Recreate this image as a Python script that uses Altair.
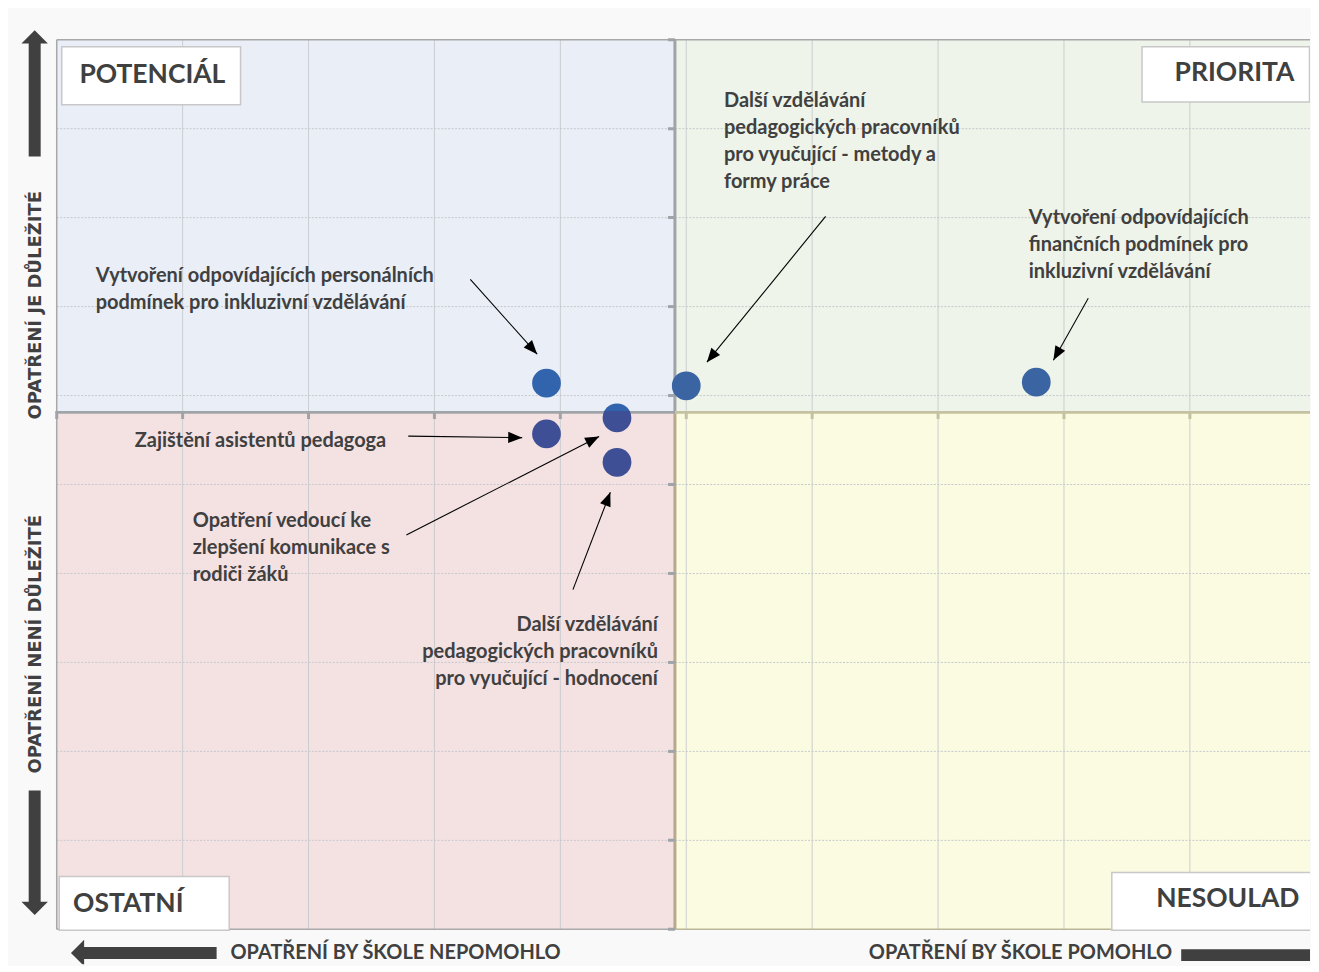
import math
import altair as alt
import pandas as pd

# ------------------------------------------------------------------
# Values (x = helpfulness, y = importance)
# ------------------------------------------------------------------
MEASURES = [
    "Vytvoření odpovídajících personálních podmínek pro inkluzivní vzdělávání",
    "Další vzdělávání pedagogických pracovníků pro vyučující - metody a formy práce",
    "Vytvoření odpovídajících finančních podmínek pro inkluzivní vzdělávání",
    "Zajištění asistentů pedagoga",
    "Opatření vedoucí ke zlepšení komunikace s rodiči žáků",
    "Další vzdělávání pedagogických pracovníků pro vyučující - hodnocení",
]
HELPFULNESS = [3.89, 5.00, 7.78, 3.89, 4.45, 4.45]
IMPORTANCE = [6.14, 6.11, 6.15, 5.57, 5.75, 5.25]

# annotation labels (lines), anchor and the arrow pointing to the measure
LABEL_LINES = [
    ["Vytvoření odpovídajících personálních", "podmínek pro inkluzivní vzdělávání"],
    ["Další vzdělávání", "pedagogických pracovníků", "pro vyučující - metody a", "formy práce"],
    ["Vytvoření odpovídajících", "finančních podmínek pro", "inkluzivní vzdělávání"],
    ["Zajištění asistentů pedagoga"],
    ["Opatření vedoucí ke", "zlepšení komunikace s", "rodiči žáků"],
    ["Další vzdělávání", "pedagogických pracovníků", "pro vyučující - hodnocení"],
]
LABEL_X = [0.31, 5.30, 7.72, 0.62, 1.08, 4.775]
LABEL_Y = [7.34, 9.315, 8.00, 5.49, 4.59, 3.42]
LABEL_ALIGN = ["left", "left", "left", "left", "left", "right"]
ARROW_FROM_X = [3.285, 6.107, 8.193, 2.792, 2.777, 4.100]
ARROW_FROM_Y = [7.306, 8.013, 7.093, 5.544, 4.433, 3.819]
ARROW_TO_X = [3.816, 5.164, 7.916, 3.697, 4.308, 4.397]
ARROW_TO_Y = [6.465, 6.375, 6.397, 5.527, 5.540, 4.913]

# axes crossing point and grid
X_CROSS, Y_CROSS = 4.91, 5.825
GRID = list(range(0, 11))

# quadrants
QUADRANTS = ["POTENCIÁL", "PRIORITA", "OSTATNÍ", "NESOULAD"]
QUAD_X = [0, X_CROSS, 0, X_CROSS]
QUAD_X2 = [X_CROSS, 10, X_CROSS, 10]
QUAD_Y = [Y_CROSS, Y_CROSS, 0, 0]
QUAD_Y2 = [10, 10, Y_CROSS, Y_CROSS]
QUAD_FILL = ["#e9eef7", "#eef4e9", "#f4e2e3", "#fafbe1"]
QUAD_BOX_X = [0.04, 8.62, 0.02, 8.38]
QUAD_BOX_X2 = [1.46, 9.95, 1.37, 10.0]
QUAD_BOX_Y = [9.27, 9.30, -0.01, -0.01]
QUAD_BOX_Y2 = [9.92, 9.92, 0.595, 0.64]
QUAD_LABEL_X = [0.18, 9.83, 0.13, 9.87]
QUAD_LABEL_Y = [9.60, 9.62, 0.29, 0.34]
QUAD_LABEL_ALIGN = ["left", "right", "left", "right"]

# outer axis titles and the big arrows
AXIS_TITLES = ["OPATŘENÍ JE DŮLEŽITÉ", "OPATŘENÍ NENÍ DŮLEŽITÉ",
               "OPATŘENÍ BY ŠKOLE NEPOMOHLO", "OPATŘENÍ BY ŠKOLE POMOHLO"]
AXIS_TITLE_X = [-0.165, -0.165, 1.38, 6.45]
AXIS_TITLE_Y = [7.015, 3.204, -0.265, -0.265]
AXIS_TITLE_ANGLE = [270, 270, 0, 0]
BIG_FROM_X = [-0.175, -0.175, 1.27, 8.931]
BIG_FROM_Y = [8.687, 1.56, -0.265, -0.29]
BIG_BASE_X = [-0.175, -0.175, 0.216, 9.98]
BIG_BASE_Y = [9.97, 0.30, -0.265, -0.29]
BIG_TIP_X = [-0.175, -0.175, 0.113, 10.09]
BIG_TIP_Y = [10.106, 0.162, -0.265, -0.29]

# ------------------------------------------------------------------
# view geometry
# ------------------------------------------------------------------
WIDTH = 1303
TOP_H = 402
BOTTOM_H = 554
PX_X = 126.1
PX_Y = 89.1
VIEW_X = [-0.379, -0.379 + WIDTH / PX_X]
TOP_Y = [Y_CROSS, Y_CROSS + TOP_H / PX_Y]
BOTTOM_Y = [Y_CROSS - BOTTOM_H / PX_Y, Y_CROSS]
LINE_STEP = 27 / PX_Y
TICK_LEN_X = 7 / PX_X
TICK_LEN_Y = 8 / PX_Y

TEXT_COLOR = "#404040"
GRID_COLOR = "#c6c9cd"
GRAY_AXIS = "#a0a4a8"
OLIVE_AXIS = "#c4c2a0"
TAN_AXIS = "#b8a98c"
THIN_HEAD = "M0,0L0.4,1L-0.4,1Z"
BIG_HEAD = "M0,0L1,1L-1,1Z"


def angle_of(x1, y1, x2, y2):
    dx = (x2 - x1) * PX_X
    dy = -(y2 - y1) * PX_Y
    return math.degrees(math.atan2(dx, -dy)) % 360


def build_panel(is_top):
    ys = alt.Scale(domain=TOP_Y if is_top else BOTTOM_Y, nice=False, zero=False)
    xs = alt.Scale(domain=VIEW_X, nice=False, zero=False)
    height = TOP_H if is_top else BOTTOM_H

    def xy(ch):
        return ch.encode(x=alt.X("x:Q", scale=xs, axis=None),
                         y=alt.Y("y:Q", scale=ys, axis=None))

    def segs(ch):
        return ch.encode(x=alt.X("x:Q", scale=xs, axis=None), x2="x2:Q",
                         y=alt.Y("y:Q", scale=ys, axis=None), y2="y2:Q",
                         color=alt.Color("c:N", scale=None),
                         strokeWidth=alt.StrokeWidth("w:Q", scale=None))

    layers = []
    qidx = [0, 1] if is_top else [2, 3]

    # quadrant backgrounds
    quad = pd.DataFrame([dict(x=QUAD_X[i], x2=QUAD_X2[i], y=QUAD_Y[i], y2=QUAD_Y2[i],
                              c=QUAD_FILL[i]) for i in qidx])
    layers.append(alt.Chart(quad).mark_rect(clip=True).encode(
        x=alt.X("x:Q", scale=xs, axis=None), x2="x2:Q",
        y=alt.Y("y:Q", scale=ys, axis=None), y2="y2:Q",
        color=alt.Color("c:N", scale=None)))

    ylo, yhi = (Y_CROSS, 10) if is_top else (0, Y_CROSS)
    # grid
    vgrid = pd.DataFrame([dict(x=g, x2=g, y=ylo, y2=yhi, c=GRID_COLOR, w=1)
                          for g in GRID[1:-1]])
    layers.append(segs(alt.Chart(vgrid).mark_rule(opacity=0.9, clip=True)))
    hgrid = pd.DataFrame([dict(x=0, x2=10, y=g, y2=g, c=GRID_COLOR, w=1)
                          for g in GRID if ylo < g < yhi])
    layers.append(segs(alt.Chart(hgrid).mark_rule(strokeDash=[2, 1.5], clip=True)))

    # borders, axis lines, ticks
    s = []
    if is_top:
        s.append(dict(x=0, x2=10, y=10, y2=10, c="#a8a8a8", w=1.5))
        s.append(dict(x=0, x2=0, y=Y_CROSS, y2=10, c="#a8a8a8", w=1.5))
        s.append(dict(x=10, x2=10, y=Y_CROSS, y2=10, c="#b4b4b4", w=1.5))
        s.append(dict(x=X_CROSS, x2=X_CROSS, y=Y_CROSS, y2=10, c=GRAY_AXIS, w=3))
        for g in GRID:
            if g > Y_CROSS:
                s.append(dict(x=X_CROSS - TICK_LEN_X, x2=X_CROSS, y=g, y2=g, c=GRAY_AXIS, w=3))
    else:
        s.append(dict(x=0, x2=0, y=0, y2=Y_CROSS, c="#a8a8a8", w=1.5))
        s.append(dict(x=0, x2=X_CROSS, y=0, y2=0, c="#a9a9a9", w=1.5))
        s.append(dict(x=X_CROSS, x2=10, y=0, y2=0, c="#bab797", w=1.5))
        s.append(dict(x=10, x2=10, y=0, y2=Y_CROSS, c="#c3c0a0", w=1.5))
        s.append(dict(x=X_CROSS, x2=X_CROSS, y=0, y2=Y_CROSS, c=TAN_AXIS, w=3))
        for g in GRID:
            if g < Y_CROSS:
                s.append(dict(x=X_CROSS - TICK_LEN_X, x2=X_CROSS, y=g, y2=g, c=GRAY_AXIS, w=3))
        yl = Y_CROSS - 1.3 / PX_Y
        s.append(dict(x=0, x2=X_CROSS, y=yl, y2=yl, c=GRAY_AXIS, w=2.6))
        s.append(dict(x=X_CROSS, x2=10, y=yl, y2=yl, c=OLIVE_AXIS, w=2.6))
        for g in GRID[:-1]:
            s.append(dict(x=g, x2=g, y=Y_CROSS - TICK_LEN_Y, y2=Y_CROSS,
                          c=GRAY_AXIS if g < X_CROSS else OLIVE_AXIS, w=3))
    layers.append(segs(alt.Chart(pd.DataFrame(s)).mark_rule(clip=True)))

    # measures (points), clipped to this half
    pts = pd.DataFrame({
        "x": HELPFULNESS, "y": IMPORTANCE, "name": MEASURES,
        "c": [("#3264ad" if x < X_CROSS else "#3a64a2") if is_top else "#3f4f95"
              for x in HELPFULNESS],
    })
    layers.append(xy(alt.Chart(pts).mark_circle(size=830, opacity=1, clip=True)).encode(
        color=alt.Color("c:N", scale=None), tooltip=["name:N"]))

    # annotation arrows
    arr = []
    for i in range(len(ARROW_TO_Y)):
        if (ARROW_TO_Y[i] > Y_CROSS) == is_top:
            arr.append(dict(x=ARROW_FROM_X[i], y=ARROW_FROM_Y[i], x2=ARROW_TO_X[i],
                            y2=ARROW_TO_Y[i], c="#000000", w=1.1,
                            a=angle_of(ARROW_FROM_X[i], ARROW_FROM_Y[i],
                                       ARROW_TO_X[i], ARROW_TO_Y[i])))
    arr = pd.DataFrame(arr)
    layers.append(segs(alt.Chart(arr).mark_rule(clip=True)))
    layers.append(alt.Chart(arr).mark_point(shape=THIN_HEAD, size=784, filled=True,
                                            opacity=1, color="#000000", clip=True).encode(
        x=alt.X("x2:Q", scale=xs, axis=None), y=alt.Y("y2:Q", scale=ys, axis=None),
        angle=alt.Angle("a:Q", scale=None)))

    # annotation texts
    rows = []
    for i, lines in enumerate(LABEL_LINES):
        if (LABEL_Y[i] > Y_CROSS) == is_top:
            for j, ln in enumerate(lines):
                rows.append(dict(x=LABEL_X[i], y=LABEL_Y[i] - j * LINE_STEP,
                                 t=ln, al=LABEL_ALIGN[i]))
    rows = pd.DataFrame(rows)
    for al in ["left", "right"]:
        sub = rows[rows["al"] == al]
        if len(sub):
            layers.append(xy(alt.Chart(sub).mark_text(
                align=al, baseline="middle", font="Lato", fontWeight="bold",
                fontSize=20, color=TEXT_COLOR, clip=True)).encode(text="t:N"))

    # quadrant name boxes
    box = pd.DataFrame([dict(x=QUAD_BOX_X[i], x2=QUAD_BOX_X2[i], y=QUAD_BOX_Y[i],
                             y2=QUAD_BOX_Y2[i]) for i in qidx])
    layers.append(alt.Chart(box).mark_rect(fill="#ffffff", stroke="#c8c8c8",
                                           strokeWidth=1.5, clip=True).encode(
        x=alt.X("x:Q", scale=xs, axis=None), x2="x2:Q",
        y=alt.Y("y:Q", scale=ys, axis=None), y2="y2:Q"))
    for i in qidx:
        lab = pd.DataFrame([dict(x=QUAD_LABEL_X[i], y=QUAD_LABEL_Y[i], t=QUADRANTS[i])])
        layers.append(xy(alt.Chart(lab).mark_text(
            align=QUAD_LABEL_ALIGN[i], baseline="middle", font="Lato",
            fontWeight="bold", fontSize=26.5, color=TEXT_COLOR, clip=True)).encode(text="t:N"))

    # outer titles and big arrows
    tidx = [0] if is_top else [1, 2, 3]
    for i in tidx:
        tt = pd.DataFrame([dict(x=AXIS_TITLE_X[i], y=AXIS_TITLE_Y[i], t=AXIS_TITLES[i])])
        if AXIS_TITLE_ANGLE[i] == 270:
            mk = alt.Chart(tt).mark_text(angle=270, align="center", baseline="middle",
                                         font="DejaVu Sans", fontWeight="bold",
                                         fontSize=18, color=TEXT_COLOR, clip=not is_top)
        else:
            mk = alt.Chart(tt).mark_text(align="left", baseline="middle", font="Lato",
                                         fontWeight="bold", fontSize=20,
                                         color=TEXT_COLOR)
        layers.append(xy(mk).encode(text="t:N"))
    bidx = [0] if is_top else [1, 2, 3]
    big = pd.DataFrame([dict(x=BIG_FROM_X[i], y=BIG_FROM_Y[i], x2=BIG_BASE_X[i],
                             y2=BIG_BASE_Y[i], tx=BIG_TIP_X[i], ty=BIG_TIP_Y[i],
                             c=TEXT_COLOR, w=12,
                             a=angle_of(BIG_BASE_X[i], BIG_BASE_Y[i],
                                        BIG_TIP_X[i], BIG_TIP_Y[i])) for i in bidx])
    layers.append(segs(alt.Chart(big).mark_rule(clip=True)))
    layers.append(alt.Chart(big).mark_point(shape=BIG_HEAD, size=700, filled=True,
                                            opacity=1, color=TEXT_COLOR, clip=True).encode(
        x=alt.X("tx:Q", scale=xs, axis=None), y=alt.Y("ty:Q", scale=ys, axis=None),
        angle=alt.Angle("a:Q", scale=None)))

    return alt.layer(*layers).properties(width=WIDTH, height=height)


chart = alt.vconcat(build_panel(True), build_panel(False), spacing=0, bounds="flush").properties(
    padding=0, background="#f9f9f9"
).configure_view(stroke="transparent")

chart.save("out.html", embed_options={"renderer": "svg", "actions": False})
